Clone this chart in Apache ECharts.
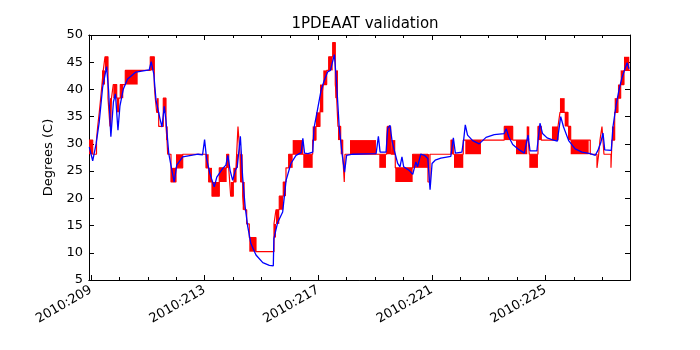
<!DOCTYPE html>
<html>
<head>
<meta charset="utf-8">
<script src="https://cdn.jsdelivr.net/npm/echarts@6/dist/echarts.min.js"></script>
<style>
  html, body { margin: 0; padding: 0; background: #fff; }
  #chart { width: 700px; height: 350px; }
</style>
</head>
<body>
<div id="chart"></div>
<script>
// x values are day of year 2010 (fractional)
var xMin = 208.93, xMax = 227.98;
var majorDays = [209, 213, 217, 221, 225];
var allDays = [209, 210, 211, 212, 213, 214, 215, 216, 217, 218, 219, 220, 221, 222, 223, 224, 225, 226, 227];
var yTicks = [5, 10, 15, 20, 25, 30, 35, 40, 45, 50];

// telemetry (red), quantised; each value holds until the next day
var redDays = [208.930, 209.060, 209.194, 209.236, 209.292, 209.342, 209.387, 209.433, 209.493, 209.599,
  209.669, 209.722, 209.785, 209.905, 210.032, 210.208, 211.088, 211.229, 211.264, 211.313,
  211.384, 211.546, 211.641, 211.676, 211.701, 211.817, 211.993, 212.229, 213.049, 213.144,
  213.261, 213.518, 213.778, 213.849, 213.919, 214.011, 214.106, 214.176, 214.246, 214.271,
  214.342, 214.387, 214.482, 214.574, 214.810, 215.444, 215.514, 215.630, 215.771, 215.866,
  215.961, 216.806, 216.923, 217.063, 217.116, 217.180, 217.299, 217.370, 217.511, 217.602,
  217.651, 217.697, 217.792, 217.863, 217.919, 217.944, 219.412, 219.440, 219.528, 219.574,
  219.715, 220.327, 220.866, 220.937, 221.676, 221.757, 222.109, 223.553, 223.849, 224.363,
  224.433, 224.739, 224.856, 225.444, 225.514, 225.796, 225.891, 226.581, 226.817, 226.877,
  226.923, 226.993, 227.063, 227.310, 227.345, 227.440, 227.556, 227.651, 227.768, 227.979];
var redVals = [30.7, 28.1, 30.7, 33.2, 35.8, 38.4, 40.9, 43.5, 46.0, 38.4,
  33.2, 38.4, 40.9, 38.4, 40.9, 43.5, 46.0, 40.9, 38.4, 35.8,
  33.2, 38.4, 33.2, 30.7, 28.1, 23.0, 25.6, 28.1, 25.6, 23.0,
  20.4, 25.6, 28.1, 25.6, 20.4, 23.0, 25.6, 33.2, 28.1, 23.0,
  20.4, 17.9, 15.3, 12.8, 10.2, 15.3, 17.9, 20.4, 23.0, 25.6,
  28.1, 30.7, 33.2, 35.8, 38.4, 40.9, 43.5, 46.0, 48.6, 40.9,
  38.4, 33.2, 30.7, 28.1, 23.0, 28.1, 30.7, 33.2, 30.7, 28.1,
  25.6, 28.1, 23.0, 28.1, 30.7, 28.1, 30.7, 33.2, 30.7, 33.2,
  28.1, 33.2, 30.7, 33.2, 35.8, 33.2, 30.7, 28.1, 25.6, 28.1,
  30.7, 33.2, 28.1, 25.6, 30.7, 35.8, 38.4, 40.9, 43.5, 43.5];

// stretches where the telemetry flips quickly between two levels
var bandStart = [208.930, 209.387, 209.493, 209.669, 209.785, 209.905, 210.032, 210.208, 211.088, 211.313,
  211.546, 211.641, 211.817, 211.993, 213.049, 213.144, 213.261, 213.518, 213.778, 213.919,
  214.011, 214.106, 214.246, 214.342, 214.574, 215.444, 215.514, 215.630, 215.771, 215.961,
  216.102, 216.475, 216.806, 216.923, 217.063, 217.180, 217.370, 217.511, 217.602, 217.697,
  217.792, 218.120, 219.151, 219.412, 219.574, 219.715, 220.327, 221.676, 221.782, 222.180,
  223.553, 223.965, 224.363, 224.433, 224.739, 225.232, 225.514, 225.680, 225.796, 225.891,
  227.345, 227.440, 227.556, 227.651, 227.768];
var bandEnd = [209.060, 209.493, 209.599, 209.722, 209.905, 209.996, 210.137, 210.644, 211.229, 211.384,
  211.641, 211.701, 211.993, 212.229, 213.144, 213.261, 213.518, 213.778, 213.849, 214.011,
  214.106, 214.176, 214.342, 214.412, 214.810, 215.514, 215.630, 215.771, 215.866, 216.102,
  216.475, 216.806, 216.923, 217.063, 217.180, 217.299, 217.511, 217.602, 217.697, 217.792,
  217.863, 219.035, 219.387, 219.574, 219.715, 220.327, 220.912, 221.757, 222.109, 222.732,
  223.849, 224.363, 224.433, 224.739, 224.856, 225.444, 225.680, 225.796, 225.891, 226.525,
  227.440, 227.556, 227.651, 227.768, 227.955];
var bandLo = [28.1, 40.9, 43.5, 33.2, 38.4, 35.8, 38.4, 40.9, 43.5, 35.8,
  35.8, 30.7, 23.0, 25.6, 25.6, 23.0, 20.4, 23.0, 25.6, 20.4,
  23.0, 25.6, 23.0, 17.9, 10.2, 12.8, 15.3, 17.9, 20.4, 25.6,
  28.1, 25.6, 30.7, 33.2, 35.8, 40.9, 43.5, 46.0, 38.4, 30.7,
  28.1, 28.1, 25.6, 28.1, 28.1, 23.0, 25.6, 28.1, 25.6, 28.1,
  30.7, 28.1, 30.7, 25.6, 30.7, 30.7, 35.8, 33.2, 30.7, 28.1,
  30.7, 35.8, 38.4, 40.9, 43.5];
var bandHi = [30.7, 43.5, 46.0, 38.4, 40.9, 38.4, 40.9, 43.5, 46.0, 38.4,
  38.4, 33.2, 25.6, 28.1, 28.1, 25.6, 23.0, 25.6, 28.1, 23.0,
  25.6, 28.1, 28.1, 23.0, 12.8, 15.3, 17.9, 20.4, 23.0, 28.1,
  30.7, 28.1, 33.2, 35.8, 40.9, 43.5, 46.0, 48.6, 43.5, 33.2,
  30.7, 30.7, 28.1, 33.2, 30.7, 25.6, 28.1, 30.7, 28.1, 30.7,
  33.2, 30.7, 33.2, 28.1, 33.2, 33.2, 38.4, 35.8, 33.2, 30.7,
  33.2, 38.4, 40.9, 43.5, 46.0];

// model prediction (blue)
var blueDays = [208.94, 209.06, 209.18, 209.29, 209.41, 209.55, 209.62, 209.70, 209.79, 209.86,
  209.95, 210.02, 210.14, 210.29, 210.58, 211.05, 211.12, 211.21, 211.29, 211.43,
  211.50, 211.58, 211.64, 211.74, 211.85, 211.93, 212.02, 212.23, 212.77, 212.93,
  213.00, 213.07, 213.19, 213.34, 213.43, 213.64, 213.75, 213.82, 213.90, 213.99,
  214.08, 214.15, 214.26, 214.34, 214.43, 214.52, 214.63, 214.81, 215.05, 215.28,
  215.42, 215.44, 215.57, 215.75, 215.87, 216.04, 216.22, 216.40, 216.46, 216.52,
  216.64, 216.81, 216.85, 216.98, 217.10, 217.21, 217.33, 217.43, 217.57, 217.65,
  217.74, 217.84, 217.93, 218.00, 218.21, 219.04, 219.12, 219.18, 219.39, 219.45,
  219.53, 219.60, 219.68, 219.80, 219.88, 219.95, 220.01, 220.21, 220.33, 220.44,
  220.50, 220.61, 220.74, 220.86, 220.94, 221.01, 221.12, 221.32, 221.67, 221.70,
  221.76, 221.83, 222.06, 222.12, 222.18, 222.26, 222.44, 222.67, 222.73, 222.91,
  223.20, 223.55, 223.62, 223.71, 223.85, 224.08, 224.26, 224.29, 224.39, 224.46,
  224.70, 224.81, 224.90, 225.06, 225.23, 225.42, 225.54, 225.64, 225.82, 226.05,
  226.29, 226.58, 226.76, 226.85, 226.95, 227.03, 227.09, 227.32, 227.38, 227.49,
  227.60, 227.70, 227.79, 227.88, 227.95];
var blueVals = [29.4, 26.9, 30.0, 34.0, 40.4, 44.2, 39.8, 31.3, 37.7, 39.2,
  32.5, 37.0, 40.1, 41.9, 43.2, 43.6, 45.1, 42.9, 38.0, 34.6,
  33.1, 36.9, 34.3, 28.2, 25.1, 23.0, 26.1, 27.6, 28.1, 28.0,
  30.8, 27.3, 24.5, 22.1, 23.9, 25.5, 26.1, 27.9, 25.1, 23.3,
  25.1, 25.8, 31.4, 23.9, 18.4, 14.8, 11.7, 9.6, 8.2, 7.7,
  7.6, 12.6, 15.5, 17.5, 23.3, 26.4, 27.9, 28.4, 31.0, 28.3,
  28.2, 28.5, 32.8, 36.4, 39.8, 41.6, 43.2, 43.5, 46.4, 41.0,
  33.1, 28.2, 24.8, 27.9, 28.1, 28.2, 31.4, 28.5, 28.5, 32.9,
  33.4, 30.6, 28.8, 26.4, 25.8, 27.6, 25.8, 25.1, 24.4, 26.7,
  25.8, 28.1, 27.9, 27.3, 21.6, 26.4, 27.0, 27.4, 27.7, 28.8,
  31.1, 28.3, 28.5, 30.6, 33.5, 31.6, 30.6, 30.0, 30.3, 31.2,
  31.7, 31.9, 32.8, 31.3, 29.9, 28.9, 28.3, 28.1, 31.6, 28.7,
  28.7, 33.8, 31.9, 31.1, 30.8, 30.5, 35.0, 33.1, 30.6, 29.1,
  28.5, 28.2, 27.9, 28.8, 30.2, 32.0, 28.9, 28.8, 33.1, 37.1,
  40.1, 42.2, 43.6, 44.9, 43.8];

var chart = echarts.init(document.getElementById('chart'));

var redData = redDays.map(function (d, i) { return [d, redVals[i]]; });
var blueData = blueDays.map(function (d, i) { return [d, blueVals[i]]; });
var bandData = bandStart.map(function (d, i) { return [d, bandEnd[i], bandLo[i], bandHi[i]]; });

var font = 'DejaVu Sans';
var blk = { color: '#000', width: 1 };

function xAx(pos, ticks, len, labels) {
  return {
    type: 'value', min: xMin, max: xMax, position: pos,
    axisLine: { show: true, onZero: false, lineStyle: blk },
    axisTick: { show: true, inside: true, length: len, customValues: ticks, lineStyle: blk },
    axisLabel: labels ? {
      show: true, customValues: majorDays, rotate: 30, margin: 9,
      color: '#000', fontFamily: font, fontSize: 13,
      formatter: function (v) { return '2010:' + v; }
    } : { show: false },
    splitLine: { show: false }
  };
}

function yAx(pos, labels) {
  return {
    type: 'value', min: 5, max: 50, interval: 5, position: pos,
    name: labels ? 'Degrees (C)' : '', nameLocation: 'middle', nameGap: 30,
    nameTextStyle: { color: '#000', fontFamily: font, fontSize: 13 },
    axisLine: { show: true, onZero: false, lineStyle: blk },
    axisTick: { show: true, inside: true, length: 5, lineStyle: blk },
    axisLabel: { show: labels, color: '#000', fontFamily: font, fontSize: 13, margin: 6 },
    splitLine: { show: false }
  };
}

var option = {
  animation: false,
  backgroundColor: '#fff',
  title: {
    text: '1PDEAAT validation', left: 360, top: 12, textAlign: 'center',
    textStyle: { color: '#000', fontFamily: font, fontSize: 15, fontWeight: 'normal' }
  },
  grid: { left: 89, right: 70, top: 35, bottom: 70 },
  xAxis: [
    xAx('bottom', majorDays, 5, true),
    xAx('top', majorDays, 5, false),
    xAx('bottom', allDays, 3, false),
    xAx('top', allDays, 3, false)
  ],
  yAxis: [yAx('left', true), yAx('right', false)],
  series: [
    {
      type: 'custom', xAxisIndex: 0, yAxisIndex: 0, data: bandData,
      encode: { x: [0, 1], y: [2, 3] },
      renderItem: function (params, api) {
        var p0 = api.coord([api.value(0), api.value(3)]);
        var p1 = api.coord([api.value(1), api.value(2)]);
        return {
          type: 'rect',
          shape: { x: p0[0], y: p0[1], width: p1[0] - p0[0], height: p1[1] - p0[1] },
          style: { fill: '#ff0000' }
        };
      },
      z: 2
    },
    {
      type: 'line', xAxisIndex: 0, yAxisIndex: 0, data: redData, step: 'end',
      showSymbol: false, lineStyle: { color: '#ff0000', width: 1.2 }, z: 3
    },
    {
      type: 'line', xAxisIndex: 0, yAxisIndex: 0, data: blueData,
      showSymbol: false, lineStyle: { color: '#0000ff', width: 1.3 }, z: 4
    }
  ]
};
chart.setOption(option);
</script>
</body>
</html>
